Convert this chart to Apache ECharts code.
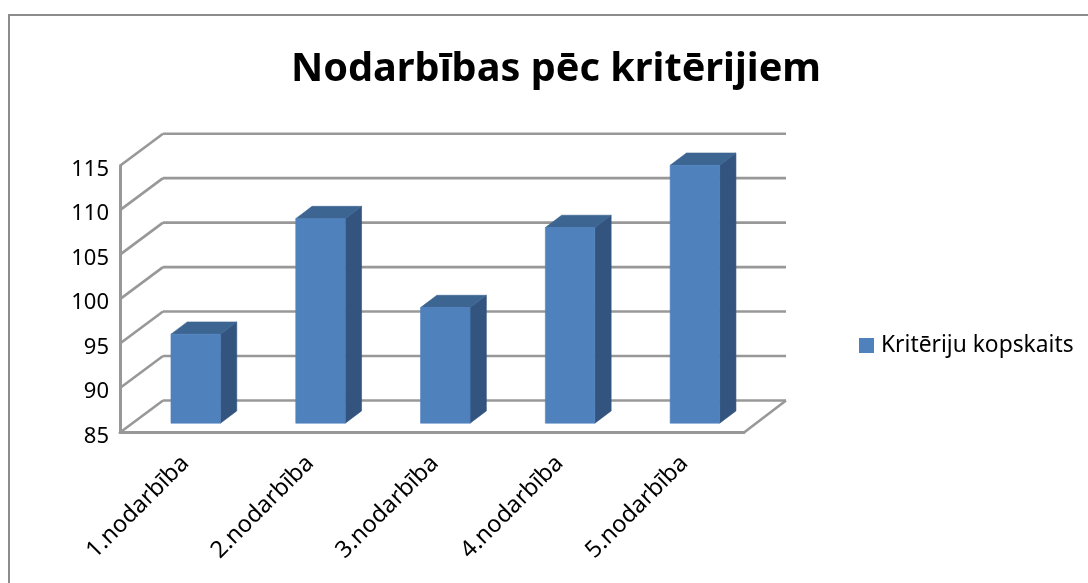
<!DOCTYPE html>
<html><head><meta charset="utf-8">
<style>html,body{margin:0;padding:0;background:#fff}#c{width:1088px;height:583px}</style>
<script src="https://cdn.jsdelivr.net/npm/echarts@6/dist/echarts.min.js"></script>
</head><body><div id="c"></div>
<script>
var titleText = 'Nodarbības pēc kritērijiem';
var seriesName = 'Kritēriju kopskaits';
var categories = ['1.nodarbība','2.nodarbība','3.nodarbība','4.nodarbība','5.nodarbība'];
var values = [95,108,98,107,114];
var yTicks = [85,90,95,100,105,110,115];
var FONT = '"Noto Sans", sans-serif';
var GRID = '#989898';
var DEPTH_X = 43, DEPTH_Y = -32;
var BAR_W = 49.5, BAR_DX = 13.3, BAR_DY = -9.3, BAR_DEPTH_X = 16.3, BAR_DEPTH_Y = -12.3;

function line(x1,y1,x2,y2,w){
  return {type:'line',shape:{x1:x1,y1:y1,x2:x2,y2:y2},style:{stroke:GRID,lineWidth:w||2.6,fill:null}};
}
function poly(pts,c){
  return {type:'polygon',shape:{points:pts},style:{fill:c,stroke:c,lineWidth:0.6}};
}
function renderWall(params,api){
  var r = params.coordSys;
  var y = api.coord([0,api.value(0)])[1];
  var kids = [
    line(r.x,y,r.x+DEPTH_X,y+DEPTH_Y),
    line(r.x+DEPTH_X,y+DEPTH_Y,r.x+r.width+DEPTH_X-1,y+DEPTH_Y)
  ];
  if(api.value(0)===yTicks[0]){
    kids.push(line(r.x+r.width,y,r.x+r.width+DEPTH_X-1,y+DEPTH_Y));
  }
  return {type:'group',children:kids};
}
function renderBar(params,api){
  var p = api.coord([api.value(0),api.value(1)]);
  var b = api.coord([api.value(0),yTicks[0]]);
  var x0 = p[0]+BAR_DX-BAR_W/2, x1 = x0+BAR_W;
  var t = p[1]+BAR_DY, g = b[1]+BAR_DY;
  return {type:'group',children:[
    poly([[x1,t],[x1+BAR_DEPTH_X,t+BAR_DEPTH_Y],[x1+BAR_DEPTH_X,g+BAR_DEPTH_Y],[x1,g]],'#32547F'),
    poly([[x0,t],[x0+BAR_DEPTH_X,t+BAR_DEPTH_Y],[x1+BAR_DEPTH_X,t+BAR_DEPTH_Y],[x1,t]],'#3D6592'),
    poly([[x0,t],[x1,t],[x1,g],[x0,g]],'#4F81BD')
  ]};
}
var chart = echarts.init(document.getElementById('c'),null,{renderer:'canvas'});
chart.setOption({
  animation:false,
  backgroundColor:'#fff',
  title:{text:titleText,left:551,top:45,textAlign:'center',
    textStyle:{fontFamily:FONT,fontWeight:'bold',fontSize:39.7,color:'#000'}},
  legend:{data:[seriesName],left:854,top:329,icon:'rect',itemWidth:15,itemHeight:15,
    textStyle:{fontFamily:FONT,fontSize:22.8,color:'#000',padding:[0,0,0,2]}},
  grid:{left:120,right:344,top:165.7,bottom:150.5,containLabel:false},
  xAxis:{type:'category',data:categories,
    axisLine:{show:true,lineStyle:{color:GRID,width:3}},
    axisTick:{show:false},
    axisLabel:{rotate:45,interval:0,margin:30,padding:[0,-4,0,0],fontFamily:FONT,fontSize:23.5,color:'#000'}},
  yAxis:{type:'value',min:85,max:115,interval:5,
    axisLine:{show:true,lineStyle:{color:GRID,width:3}},
    axisTick:{show:false},
    splitLine:{show:false},
    axisLabel:{margin:11,verticalAlign:'bottom',padding:[0,0,-15,0],fontFamily:FONT,fontSize:22,color:'#000'}},
  graphic:[
    {type:'polyline',shape:{points:[[9,583],[9,15],[1088,15]]},style:{stroke:'#8c8c8c',fill:null,lineWidth:2}}
  ],
  series:[
    {type:'custom',name:'walls',silent:true,z:1,coordinateSystem:'cartesian2d',
     encode:{y:0},data:yTicks.map(function(v){return [v];}),renderItem:renderWall},
    {type:'custom',name:seriesName,z:3,coordinateSystem:'cartesian2d',
     itemStyle:{color:'#4F81BD'},encode:{x:0,y:1},
     data:values.map(function(v,i){return [i,v];}),renderItem:renderBar}
  ]
});
</script></body></html>
